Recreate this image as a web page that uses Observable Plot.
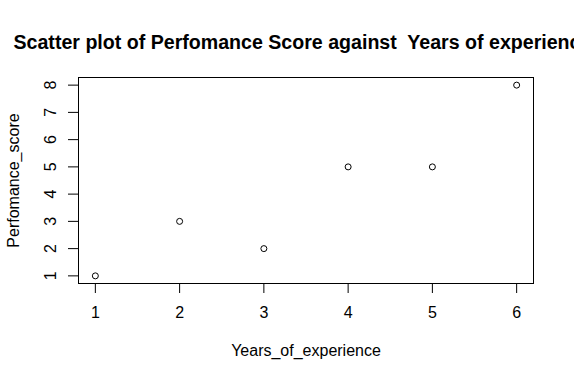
<!DOCTYPE html>
<html>
<head>
<meta charset="utf-8">
<script src="https://cdn.jsdelivr.net/npm/d3@7"></script>
<script src="https://cdn.jsdelivr.net/npm/@observablehq/plot@0.6"></script>
<style>
  html, body { margin: 0; padding: 0; background: #fff; }
  svg text { white-space: pre; }
</style>
</head>
<body>
<div id="chart"></div>
<script>
const years = [1, 2, 3, 4, 5, 6];
const scores = [1, 3, 2, 5, 5, 8];
const xTicks = [1, 2, 3, 4, 5, 6];
const yTicks = [1, 2, 3, 4, 5, 6, 7, 8];
const title = "Scatter plot of Perfomance Score against  Years of experience";
const xLabel = "Years_of_experience";
const yLabel = "Perfomance_score";

const data = years.map((y, i) => ({x: y, y: scores[i]}));
const font = "Liberation Sans, Arial, sans-serif";

const chart = Plot.plot({
  width: 574,
  height: 381,
  marginLeft: 78,
  marginRight: 41,
  marginTop: 77,
  marginBottom: 98,
  style: {fontFamily: font, fontSize: "16px", background: "#fff", color: "#000", overflow: "hidden"},
  x: {domain: [0.8, 6.2]},
  y: {domain: [0.72, 8.28]},
  marks: [
    Plot.frame({stroke: "#000", strokeWidth: 1}),
    Plot.axisX({ticks: xTicks, tickFormat: "d", tickSize: 10, tickPadding: 13, label: null, fontSize: 16}),
    Plot.axisY({ticks: yTicks, tickFormat: "d", tickSize: 10, tickPadding: 13, tickRotate: -90, textAnchor: "middle", label: null, fontSize: 16}),
    Plot.dot(data, {x: "x", y: "y", r: 3, stroke: "#000", strokeWidth: 1, fill: "none"}),
    Plot.text([title], {frameAnchor: "top-left", dx: -65, dy: -29, textAnchor: "start", lineAnchor: "bottom", fontWeight: "bold", fontSize: 19.6, fill: "#000"}),
    Plot.text([xLabel], {frameAnchor: "bottom", dy: 67, lineAnchor: "middle", fontSize: 16, fill: "#000"}),
    Plot.text([yLabel], {frameAnchor: "left", dx: -65, rotate: -90, textAnchor: "middle", lineAnchor: "middle", fontSize: 16, fill: "#000"})
  ]
});
document.getElementById("chart").appendChild(chart);
</script>
</body>
</html>
